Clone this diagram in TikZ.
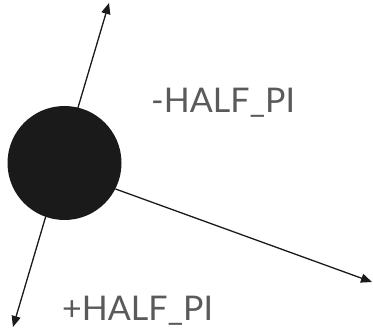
\documentclass[tikz,border=0pt]{standalone}
\usepackage{fontspec}
\setmainfont{Lato}
\usetikzlibrary{arrows.meta}
\definecolor{txtgray}{HTML}{5A5A5A}
\definecolor{ballblack}{HTML}{1A1A1A}
\tikzset{
  tip/.tip={Triangle[length=11pt,width=9pt]},
  arr/.style={line width=1.3pt, draw=ballblack, -tip},
  darr/.style={line width=1.3pt, draw=ballblack, tip-tip},
  lbl/.style={text=txtgray, font=\fontsize{34}{34}\selectfont, inner sep=0pt, anchor=base west},
}
\begin{document}
\begin{tikzpicture}[x=1pt,y=-1pt]
\useasboundingbox (0,0) rectangle (373,329);
\coordinate (top) at (109,3);
\coordinate (bot) at (13,327);
\coordinate (rt) at (372,282);
\draw[darr] (bot) -- (top);
\node[circle, fill=ballblack, minimum size=114pt, inner sep=0pt] (c) at (64.5,163) {};
\draw[arr] (c.-27) -- (rt);
\node[lbl] (neg) at (151,113) {-HALF\_PI};
\node[lbl] (pos) at (62,320) {+HALF\_PI};
\end{tikzpicture}
\end{document}
